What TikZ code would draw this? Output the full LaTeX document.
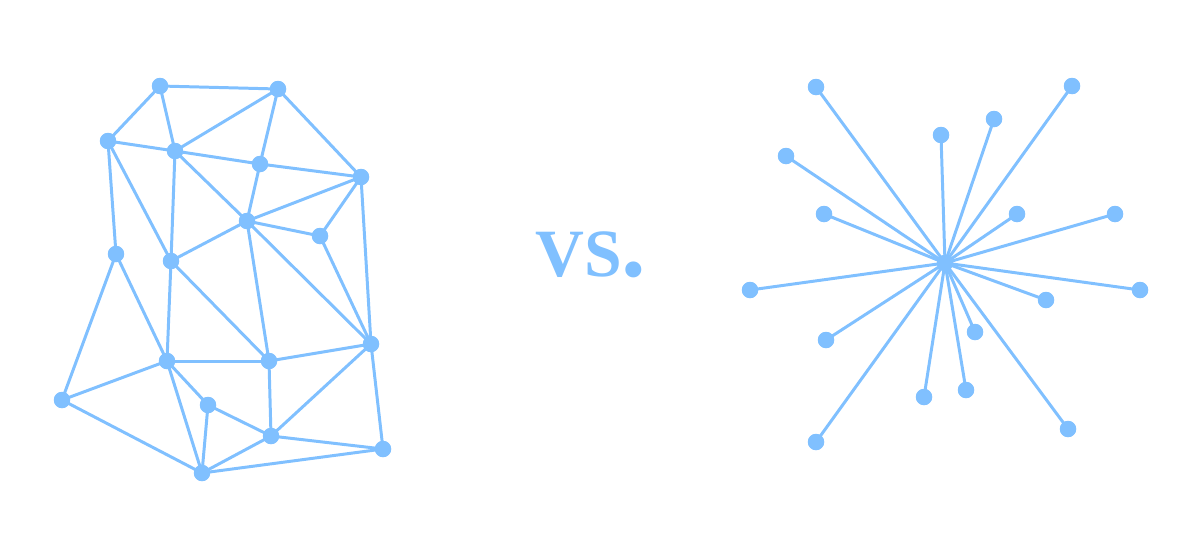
\documentclass[tikz,border=0pt]{standalone}
\usepackage{fontspec}
\setmainfont{Liberation Serif}
\definecolor{netblue}{RGB}{128,192,255}
\begin{document}
\begin{tikzpicture}[x=0.02cm,y=-0.02cm,
  dot/.style={circle,fill=netblue,draw=none,minimum size=0.32cm,inner sep=0pt},
  link/.style={draw=netblue,line width=1.7pt}]
\useasboundingbox (0,0) rectangle (1200,555);
% mesh nodes
\node[dot] (A) at (160,86) {};
\node[dot] (B) at (278,89) {};
\node[dot] (C) at (108,141) {};
\node[dot] (D) at (175,151) {};
\node[dot] (E) at (260,164) {};
\node[dot] (F) at (361,177) {};
\node[dot] (G) at (247,221) {};
\node[dot] (H) at (320,236) {};
\node[dot] (I) at (116,254) {};
\node[dot] (J) at (171,261) {};
\node[dot] (K) at (371,344) {};
\node[dot] (L) at (167,361) {};
\node[dot] (M) at (269,361) {};
\node[dot] (N) at (62,400) {};
\node[dot] (O) at (208,405) {};
\node[dot] (P) at (271,436) {};
\node[dot] (Q) at (383,449) {};
\node[dot] (R) at (202,473) {};
\foreach \a/\b in {A/B,A/C,A/D,B/D,B/E,B/F,C/D,C/I,C/J,D/E,D/G,D/J,E/F,E/G,F/G,F/H,F/K,G/H,G/J,G/K,G/M,H/K,I/N,I/L,J/L,J/M,L/M,L/N,L/O,L/R,M/K,M/P,K/P,K/Q,O/P,O/R,N/R,R/P,R/Q,P/Q}
  \draw[link] (\a.center) -- (\b.center);
% dots on top
\foreach \n in {A,B,C,D,E,F,G,H,I,J,K,L,M,N,O,P,Q,R}
  \fill[netblue] (\n.center) circle (0.165cm);
% text
\node[anchor=base west,inner sep=0pt,text=netblue,font=\bfseries\fontsize{38.5}{40}\selectfont] (vs) at (535,276) {VS\kern-0.01em{\fontsize{56}{56}\selectfont.}};
% star
\node[dot] (S) at (945,263) {};
\foreach \i/\x/\y in {1/816/87,2/941/135,3/994/119,4/1072/86,5/786/156,6/824/214,7/1017/214,8/1115/214,9/750/290,10/1140/290,11/1046/300,12/826/340,13/975/332,14/924/397,15/966/390,16/816/442,17/1068/429}{
  \node[dot] (s\i) at (\x,\y) {};
  \draw[link] (S.center) -- (s\i.center);
  \fill[netblue] (s\i.center) circle (0.165cm);
}
\fill[netblue] (S.center) circle (0.165cm);
\end{tikzpicture}
\end{document}
